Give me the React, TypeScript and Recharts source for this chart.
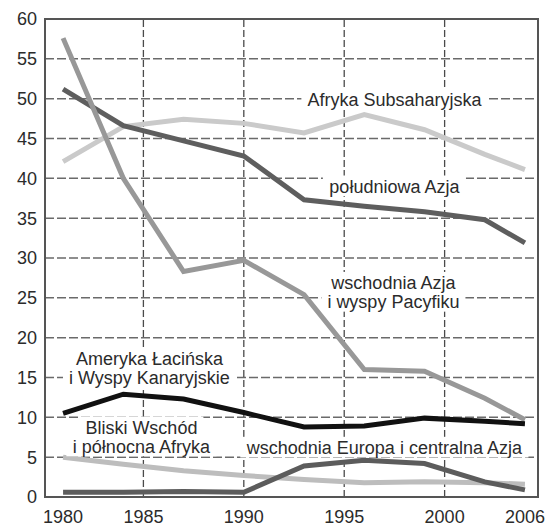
import React from 'react';
import {
  LineChart, Line, XAxis, YAxis, CartesianGrid,
  ReferenceLine, ReferenceArea, ReferenceDot
} from 'recharts';

// survey years (the axis labels at the ends read 1980 / 2006)
const years = [1981, 1984, 1987, 1990, 1993, 1996, 1999, 2002, 2004];

const afrykaSubsaharyjska = [42.1, 46.5, 47.4, 46.9, 45.7, 48.0, 46.1, 43.0, 41.1];
const poludniowaAzja      = [51.2, 46.6, 44.7, 42.8, 37.3, 36.5, 35.8, 34.8, 31.9];
const wschodniaAzja       = [57.6, 40.0, 28.3, 29.7, 25.4, 16.0, 15.8, 12.4, 9.7];
const amerykaLacinska     = [10.5, 12.9, 12.3, 10.6, 8.8, 8.9, 9.9, 9.5, 9.2];
const bliskiWschod        = [5.0, 4.1, 3.3, 2.7, 2.2, 1.8, 1.9, 1.8, 1.6];
const europaWschodnia     = [0.6, 0.6, 0.7, 0.6, 3.9, 4.6, 4.2, 1.9, 0.9];

const xTicks = [1981, 1985, 1990, 1995, 2000, 2004];
const xTickLabels = ['1980', '1985', '1990', '1995', '2000', '2006'];
const gridYears = [1985, 1990, 1995, 2000];
const yTicks = [0, 5, 10, 15, 20, 25, 30, 35, 40, 45, 50, 55, 60];

// annotation labels (one entry per label, lines split by \n), centre in data units
const labelTexts = [
  'Afryka Subsaharyjska',
  'południowa Azja',
  'wschodnia Azja\ni wyspy Pacyfiku',
  'Ameryka Łacińska\ni Wyspy Kanaryjskie',
  'Bliski Wschód\ni północna Afryka',
  'wschodnia Europa i centralna Azja',
];
const labelX = [1997.5, 1997.5, 1997.45, 1985.3, 1984.9, 1997.0];
const labelY = [49.9, 39.0, 25.7, 16.15, 7.55, 6.2];

const FONT = '"Liberation Sans", Arial, sans-serif';
const FS = 18;
const LH = 19;

const data = years.map((year, i) => ({
  year,
  afryka: afrykaSubsaharyjska[i],
  pAzja: poludniowaAzja[i],
  wAzja: wschodniaAzja[i],
  ameryka: amerykaLacinska[i],
  bliski: bliskiWschod[i],
  europa: europaWschodnia[i],
}));

let ctx: CanvasRenderingContext2D | null = null;
const measure = (s: string) => {
  if (!ctx) {
    ctx = document.createElement('canvas').getContext('2d');
  }
  if (!ctx) return s.length * FS * 0.5;
  ctx.font = `${FS}px "Liberation Sans"`;
  return ctx.measureText(s).width;
};

const TextBox = (label: string) => (props: any) => {
  const { cx, cy } = props;
  const lines = label.split('\n');
  const top = cy - ((lines.length - 1) * LH) / 2;
  return (
    <g>
      {lines.map((ln, i) => {
        const w = measure(ln) + 12;
        return (
          <rect
            key={i}
            x={cx - w / 2}
            y={top + i * LH - FS * 0.6}
            width={w}
            height={FS * 1.15}
            fill="#fff"
          />
        );
      })}
      <text textAnchor="middle" fontFamily={FONT} fontSize={FS} fill="#2b2b2b">
        {lines.map((ln, i) => (
          <tspan key={i} x={cx} y={top + i * LH + FS * 0.36}>{ln}</tspan>
        ))}
      </text>
    </g>
  );
};

const series = [
  { key: 'bliski', color: '#bdbdbd', width: 5 },
  { key: 'europa', color: '#5c5c5c', width: 5 },
  { key: 'afryka', color: '#cacaca', width: 5 },
  { key: 'pAzja', color: '#5e5e5e', width: 5 },
  { key: 'wAzja', color: '#989898', width: 5 },
  { key: 'ameryka', color: '#111111', width: 5 },
];

const X_MIN = 1980.1;
const X_MAX = 2004.65;

export default function App() {
  return (
    <div style={{ position: 'absolute', left: 0, top: 0, background: '#fff' }}>
      <LineChart width={547} height={527} data={data} margin={{ top: 19, right: 9, bottom: 0, left: 0 }}>
        <CartesianGrid vertical={false} stroke="#6a6a6a" strokeWidth={1.5} strokeDasharray="9 3" />
        {gridYears.map(y => (
          <ReferenceLine key={y} x={y} stroke="#4a4a4a" strokeWidth={1.3} strokeDasharray="7 3" />
        ))}
        <XAxis
          dataKey="year"
          type="number"
          domain={[X_MIN, X_MAX]}
          ticks={xTicks}
          tickFormatter={(v: number) => xTickLabels[xTicks.indexOf(v)]}
          tick={{ fontSize: FS, fill: '#2b2b2b', fontFamily: FONT }}
          tickLine={false}
          tickSize={6}
          tickMargin={7}
          axisLine={{ stroke: '#555', strokeWidth: 2 }}
          height={30}
          allowDataOverflow
        />
        <YAxis
          type="number"
          domain={[0, 60]}
          ticks={yTicks}
          interval={0}
          tick={{ fontSize: FS, fill: '#2b2b2b', fontFamily: FONT }}
          tickLine={false}
          tickSize={4}
          tickMargin={4}
          axisLine={{ stroke: '#555', strokeWidth: 2 }}
          width={45}
        />
        <ReferenceArea x1={X_MIN} x2={X_MAX} y1={0} y2={60} fill="none" stroke="#555" strokeWidth={2} />
        {labelTexts.map((t, i) => (
          <ReferenceDot key={t} x={labelX[i]} y={labelY[i]} r={1} shape={TextBox(t)} />
        ))}
        {series.map(s => (
          <Line
            key={s.key}
            type="linear"
            dataKey={s.key}
            stroke={s.color}
            strokeWidth={s.width}
            dot={false}
            activeDot={false}
            isAnimationActive={false}
          />
        ))}
      </LineChart>
    </div>
  );
}
